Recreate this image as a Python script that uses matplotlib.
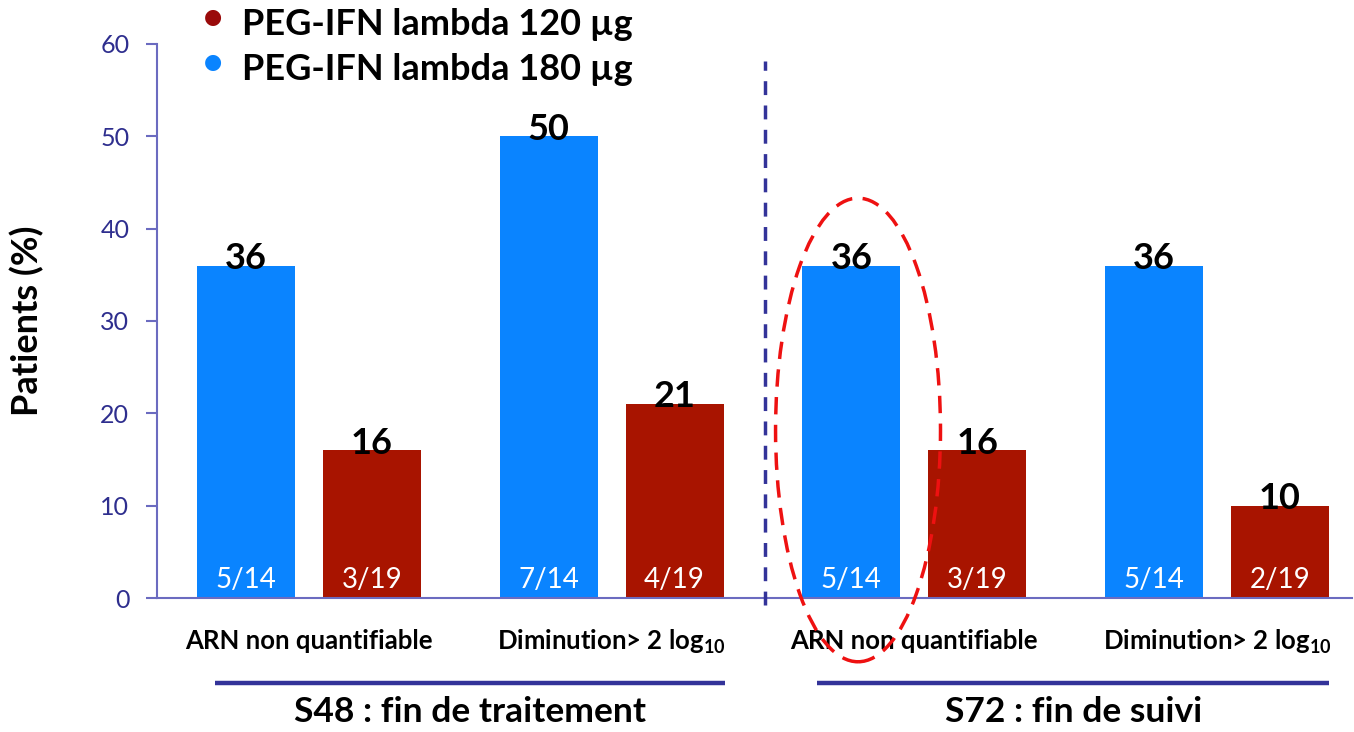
import matplotlib
matplotlib.use("Agg")
import matplotlib.pyplot as plt
from matplotlib.patches import Ellipse
import numpy as np

plt.rcParams["font.family"] = ["Lato", "DejaVu Sans"]
plt.rcParams["mathtext.default"] = "regular"

categories = ["ARN non quantifiable", "Diminution> 2 log$_{10}$",
              "ARN non quantifiable", "Diminution> 2 log$_{10}$"]
dose_180 = [36, 50, 36, 36]
dose_120 = [16, 21, 16, 10]
frac_180 = ["5/14", "7/14", "5/14", "5/14"]
frac_120 = ["3/19", "4/19", "3/19", "2/19"]
periods = ["S48 : fin de traitement", "S72 : fin de suivi"]
series_names = ["PEG-IFN lambda 120 µg", "PEG-IFN lambda 180 µg"]
yticks = [0, 10, 20, 30, 40, 50, 60]

blue = "#0A84FF"
red = "#A81400"
legend_red = "#9A0A0A"
axis_col = "#6B6BC0"
tick_col = "#2E2E8E"
navy = "#333399"

fig = plt.figure(figsize=(13.54, 7.32), dpi=100)
ax = fig.add_axes([0.116, 0.183, 0.8825, 0.757])

x = np.arange(len(categories))
w = 0.324
off = 0.208
ax.bar(x - off, dose_180, width=w, color=blue, zorder=2)
ax.bar(x + off, dose_120, width=w, color=red, zorder=2)

for xs, vals, fracs in [(x - off, dose_180, frac_180),
                        (x + off, dose_120, frac_120)]:
    for xi, v, f in zip(xs, vals, fracs):
        ax.text(xi, v - 0.35, str(v), ha="center", va="baseline",
                fontsize=26, fontweight="bold", color="black", zorder=4)
        ax.text(xi, 2.0, f, ha="center", va="center", fontsize=20,
                color="white", zorder=4)

ax.set_xlim(-0.502, 3.446)
ax.set_ylim(0, 60)
ax.set_yticks(yticks)
ax.tick_params(axis="y", colors=axis_col, labelcolor=tick_col,
               labelsize=18, length=8, width=1.5, pad=12)
ax.set_xticks([])
for s in ["top", "right"]:
    ax.spines[s].set_visible(False)
for s in ["left", "bottom"]:
    ax.spines[s].set_color(axis_col)
    ax.spines[s].set_linewidth(1.5)

ax.set_ylabel("Patients (%)", fontsize=26, fontweight="bold",
              color="black", labelpad=40)

# category labels under the axis
for xi, lab in zip(x, categories):
    ax.text(xi, -4.7, lab, ha="center", va="center", fontsize=18.5,
            fontweight="bold", color="black", clip_on=False)

# separator between the two periods
ax.plot([1.506, 1.506], [-0.8, 58.1], color=navy, lw=2.5,
        ls=(0, (4, 3)), clip_on=False, zorder=3)

# period underlines and titles
for (x0, x1), lab in zip([(-0.31, 1.375), (1.68, 3.37)], periods):
    ax.plot([x0, x1], [-9.2, -9.2], color=navy, lw=3.2,
            clip_on=False, solid_capstyle="butt")
    ax.text((x0 + x1) / 2, -12.3, lab, ha="center", va="center",
            fontsize=25.5, fontweight="bold", color="black", clip_on=False)

# highlight around the week-72 undetectable RNA bar
ax.add_patch(Ellipse((1.814, 18.2), 0.545, 50.2, fill=False,
                     edgecolor="#EE1111", lw=2.5, ls=(0, (5, 3)),
                     clip_on=False, zorder=5))

# legend
for yy, col, name in zip([0.977, 0.915], [legend_red, blue], series_names):
    fig.text(0.157, yy, "\u25CF", color=col, fontsize=15,
             ha="center", va="center", family="DejaVu Sans")
    fig.text(0.179, yy - 0.010, name, fontsize=26, fontweight="bold",
             color="black", ha="left", va="center")

fig.savefig("out.png", dpi=100)
